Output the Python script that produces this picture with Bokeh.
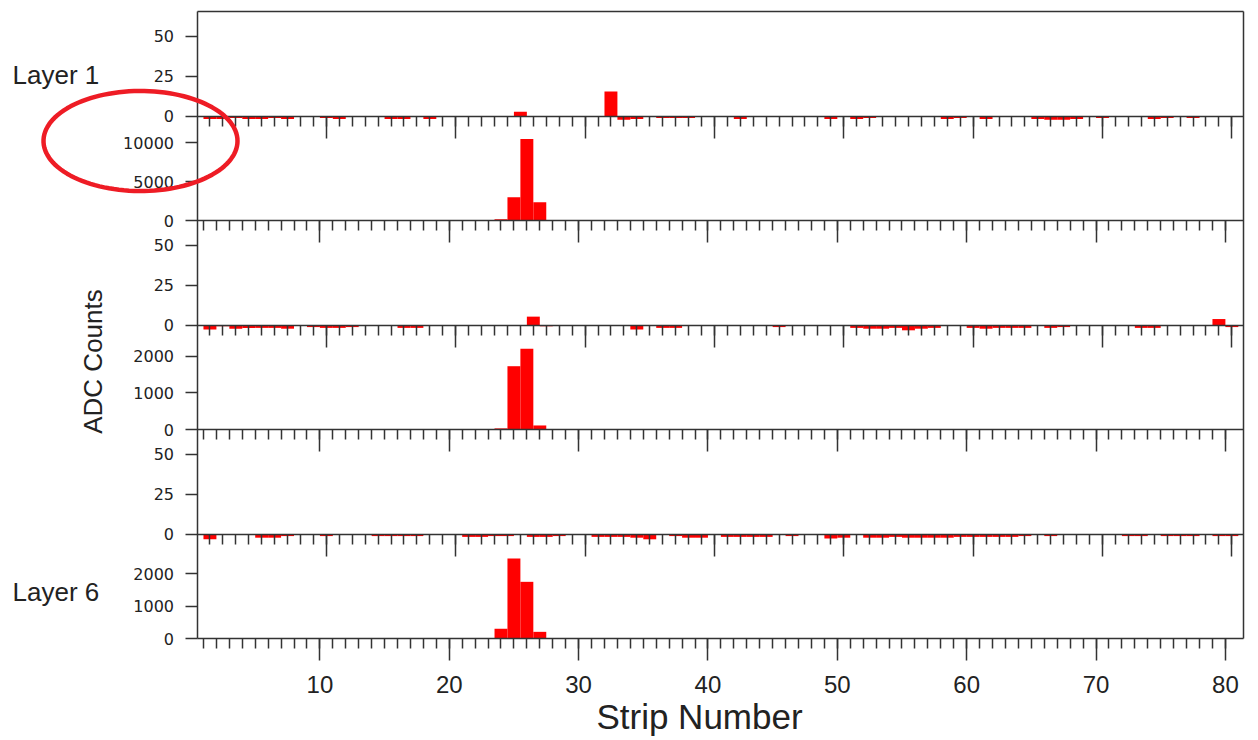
import numpy as np
from bokeh.plotting import figure
from bokeh.models import Range1d, LinearAxis, FixedTicker, Label, PolyAnnotation
from bokeh.embed import file_html
from bokeh.resources import INLINE

# ---------------- data ----------------
STRIPS = list(range(1, 81))

# pedestal-subtracted small-scale views (ADC counts), strips 1..80
layer1_small = [
    -1.5, -1.5, -1, -1.5, -1.5, -1, -1.5, 0, 0, -1,
    -1.5, 0, 0, 0, -1.5, -1.5, 0, -1.5, 0, 0,
    0, 0, 0, 0, 3, 0, 0, 0, 0, 0,
    0, 15.5, -2, -1.5, 0, -1, -1, -1, 0, 0,
    0, -1.5, 0, 0, 0, 0, 0, 0, -1.5, 0,
    -1.5, -1, 0, 0, 0, 0, 0, -1.5, -1, 0,
    -1.5, 0, 0, 0, -1.5, -2, -2, -1.5, 0, -1,
    0, 0, 0, -1.5, -1, 0, -1, 0, 0, 0,
]
layer3_small = [
    -2.5, -0.5, -2, -1.5, -1.5, -1.5, -2, 0, -1, -1.5,
    -1.5, -1, 0, 0, 0, -1.5, -1.5, 0, 0, 0,
    0, 0, 0, 0, 0, 5.5, -0.5, 0, 0, 0,
    0, 0, 0, -2.5, 0, -1.5, -1.5, 0, 0, 0,
    0, 0, 0, 0, -1, 0, 0, 0, 0, 0,
    -1.5, -2, -2, -1.5, -3, -2, -1.5, 0, 0, -1.5,
    -2, -1.5, -1.5, -1.5, 0, -1.5, -1, 0, 0, 0,
    0, 0, -1.5, -1.5, 0, 0, 0, 0, 4, -1,
]
layer5_small = [
    -3, 0, 0, 0, -2, -2, -1, 0, 0, -1,
    0, 0, 0, -1, -1, -1, -1, 0, 0, 0,
    -1.5, -1.5, -1, -1, 0, -1.5, -1.5, -1, 0, 0,
    -1.5, -1.5, -1.5, -2, -3, 0, -1, -2, -2, 0,
    -1.5, -1.5, -1.5, -1.5, 0, -1, 0, 0, -2.5, -2,
    0, -2, -2, -1.5, -2, -2, -2, -2, -1.5, -1.5,
    -1.5, -1.5, -1.5, -1, 0, -1, 0, 0, 0, 0,
    0, -1, -1, 0, -1, -1, -1, 0, -1, -1,
]
# full-scale views (ADC counts)
layer2_big = [0] * 23 + [150, 3000, 10500, 2350, 80] + [0] * 52
layer4_big = [0] * 23 + [30, 1725, 2200, 110] + [0] * 53
layer6_big = [0] * 23 + [300, 2460, 1745, 205] + [0] * 53

X_MAJOR = [10, 20, 30, 40, 50, 60, 70, 80]
X_MINOR = list(range(1, 81))
SMALL_TICKS = [0, 25, 50]
BIG_TICKS = [[0, 5000, 10000], [0, 1000, 2000], [0, 1000, 2000]]

# ---------------- layout constants (pixels) ----------------
FRAME_W, FRAME_H = 1248, 738
DATA_L, DATA_R, DATA_T, DATA_B = 196.5, 1243, 11, 638
LAYER_H = 209
SMALL_H = 127
SMALL_LIM = (-13.7, 65.3)
BIG_LIM = (0.5, 81.4)      # x range of the full-scale panels
SMALL_X = (0.0, 80.9)      # x range of the small-scale panels
BIG_TOP = [10560, 2235, 2525]
AX = "#333333"
TXT = "#222222"


def yr(top_px, bot_px, vmin, vmax):
    ppu = (bot_px - top_px) / (vmax - vmin)
    return Range1d(start=vmin - (FRAME_H - bot_px) / ppu, end=vmax + top_px / ppu)


def xr(lo, hi):
    ppu = (DATA_R - DATA_L) / (hi - lo)
    return Range1d(start=lo - DATA_L / ppu, end=hi + (FRAME_W - DATA_R) / ppu)


def small_px(k):
    top = DATA_T + k * LAYER_H
    return top, top + SMALL_H


def big_px(k):
    top = DATA_T + k * LAYER_H + SMALL_H
    return top, DATA_T + (k + 1) * LAYER_H


p = figure(
    frame_width=FRAME_W, frame_height=FRAME_H,
    x_range=xr(*BIG_LIM),
    y_range=yr(*big_px(2), 0, BIG_TOP[2]),
    output_backend="svg", toolbar_location=None,
    x_axis_location=None, y_axis_location=None,
    min_border=0, outline_line_color=None,
    background_fill_color="white", border_fill_color="white",
)
p.grid.visible = False
p.extra_x_ranges = {"xs": xr(*SMALL_X)}
p.extra_y_ranges = {
    "box": yr(DATA_T, DATA_B, 0, 1),
    "s0": yr(*small_px(0), *SMALL_LIM),
    "l0": yr(*big_px(0), 0, BIG_TOP[0]),
    "s1": yr(*small_px(1), *SMALL_LIM),
    "l1": yr(*big_px(1), 0, BIG_TOP[1]),
    "s2": yr(*small_px(2), *SMALL_LIM),
}

panels = [
    ("s0", "xs", layer1_small, SMALL_TICKS),
    ("l0", "default", layer2_big, BIG_TICKS[0]),
    ("s1", "xs", layer3_small, SMALL_TICKS),
    ("l1", "default", layer4_big, BIG_TICKS[1]),
    ("s2", "xs", layer5_small, SMALL_TICKS),
    ("default", "default", layer6_big, BIG_TICKS[2]),
]

line_kw = dict(axis_line_color=AX, axis_line_width=1.5,
               major_tick_line_color=AX, major_tick_line_width=1.5,
               minor_tick_line_color=AX, minor_tick_line_width=1.5)

for yname, xname, vals, yt in panels:
    p.vbar(x=STRIPS, width=1, top=vals, bottom=0,
           x_range_name=xname, y_range_name=yname,
           fill_color="#ff0000", line_color=None)

for yname, xname, vals, yt in panels:
    yax = LinearAxis(y_range_name=yname, fixed_location=BIG_LIM[0],
                     ticker=FixedTicker(ticks=yt),
                     major_tick_out=12, major_tick_in=0,
                     minor_tick_out=0, minor_tick_in=0,
                     axis_line_color=None,
                     major_tick_line_color=AX, major_tick_line_width=1.5,
                     major_label_standoff=11,
                     major_label_text_font="DejaVu Sans",
                     major_label_text_font_size="16px",
                     major_label_text_color=TXT)
    p.add_layout(yax, "left")
    lim = SMALL_X if xname == "xs" else BIG_LIM
    last = yname == "default"
    xax = LinearAxis(x_range_name=xname, y_range_name=yname, fixed_location=0,
                     bounds=lim,
                     ticker=FixedTicker(ticks=X_MAJOR, minor_ticks=X_MINOR),
                     major_tick_out=22, major_tick_in=0,
                     minor_tick_out=10, minor_tick_in=0,
                     major_label_standoff=15,
                     major_label_text_font="Liberation Sans",
                     major_label_text_font_size="24px",
                     major_label_text_color=TXT if last else None,
                     **line_kw)
    p.add_layout(xax, "below")

# frame borders: left, right, top
for loc in BIG_LIM:
    p.add_layout(LinearAxis(y_range_name="box", fixed_location=loc, bounds=(0, 1),
                            ticker=FixedTicker(ticks=[]),
                            major_label_text_color=None, **line_kw), "left")
p.add_layout(LinearAxis(y_range_name="box", fixed_location=1, bounds=BIG_LIM,
                        ticker=FixedTicker(ticks=[]),
                        major_label_text_color=None, **line_kw), "above")

lab_kw = dict(x_units="screen", y_units="screen", text_font="Liberation Sans",
              text_color=TXT, text_baseline="middle")
p.add_layout(Label(x=12, y=FRAME_H - 74, text="Layer 1", text_align="left",
                   text_font_size="26px", **lab_kw))
p.add_layout(Label(x=12, y=FRAME_H - 591, text="Layer 6", text_align="left",
                   text_font_size="26px", **lab_kw))
p.add_layout(Label(x=92, y=FRAME_H - 361, text="ADC Counts", text_align="center",
                   angle=np.pi / 2, text_font_size="26px", **lab_kw))
p.add_layout(Label(x=699, y=FRAME_H - 716, text="Strip Number", text_align="center",
                   text_font_size="35px", **lab_kw))

# red highlight ellipse around the 10000/5000 labels
t = np.linspace(0, 2 * np.pi, 120)
p.add_layout(PolyAnnotation(xs=list(140 + 97 * np.cos(t)),
                            ys=list(FRAME_H - 140.5 + 50 * np.sin(t)),
                            xs_units="screen", ys_units="screen",
                            fill_color=None, fill_alpha=0,
                            line_color="#ee1c25", line_alpha=1, line_width=4.5))

open("out.html", "w").write(file_html(p, INLINE))
